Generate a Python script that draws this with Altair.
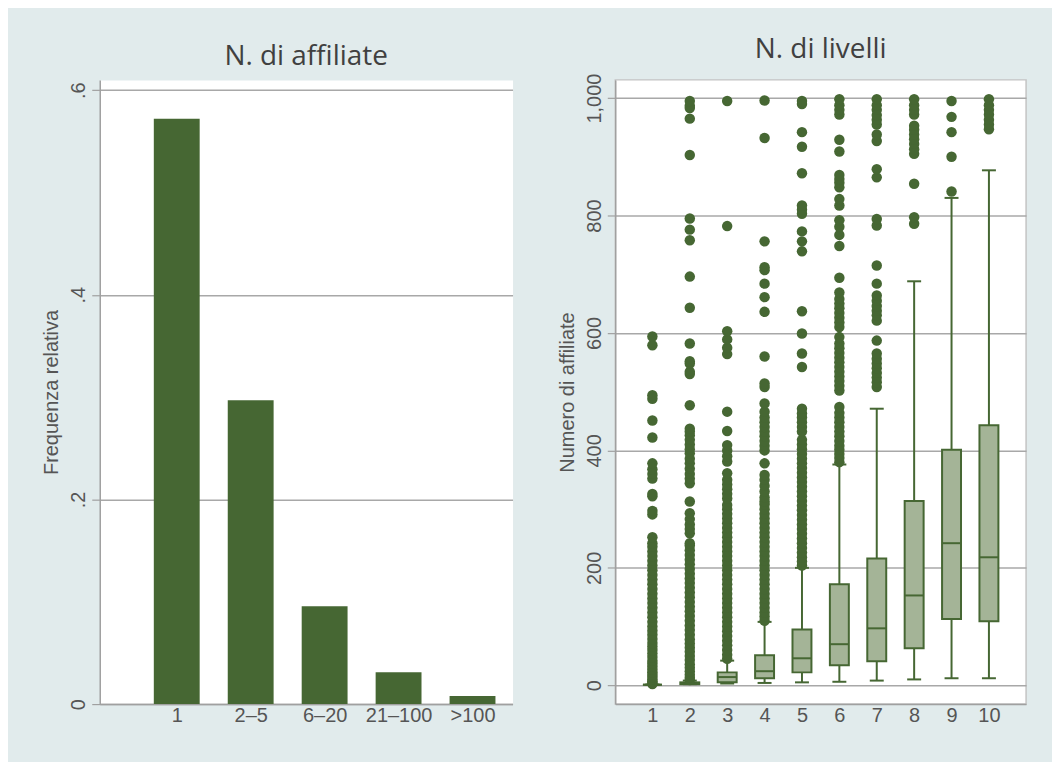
import json
import altair as alt
import pandas as pd

# ---------------- data ----------------
aff_labels = ["1", "2–5", "6–20", "21–100", ">100"]
aff_pos = [1, 2, 3, 4, 5]
aff_freq = [0.572, 0.297, 0.0955, 0.031, 0.0078]

lvl_pos = [1, 2, 3, 4, 5, 6, 7, 8, 9, 10]
box_lw = [1, 2, 3, 4, 5, 6, 8, 10, 12, 12]
box_q1 = [1, 2, 5, 12, 22, 34, 41, 63, 113, 109]
box_med = [1, 3, 14, 24, 46, 70, 97, 153, 242, 218]
box_q3 = [1, 5, 22, 51, 95, 172, 216, 314, 401, 443]
box_uw = [1, 8, 42, 108, 200, 376, 471, 688, 830, 877]

out_1 = [2, 4, 7, 10, 14, 18, 22, 27, 32, 37, 42, 48, 54, 60, 66, 72, 79, 86, 93, 100,
         108, 116, 124, 132, 140, 148, 156, 164, 172, 180, 188, 196, 204, 212, 220, 228,
         236, 242, 252, 291, 297, 322, 326, 352, 360, 368, 378, 422, 451, 488, 494, 579, 594]
out_2 = [9, 13, 18, 24, 30, 36, 43, 50, 57, 64, 71, 78, 86, 94, 102, 110, 118, 126, 134,
         142, 150, 158, 166, 174, 182, 190, 198, 206, 214, 222, 230, 238, 242, 259, 266,
         274, 283, 293, 313, 344, 352, 360, 369, 378, 386, 395, 402, 410, 418, 426, 432,
         437, 477, 530, 534, 548, 552, 582, 643, 696, 758, 776, 795, 903, 965, 983, 987, 995]
out_3 = [45, 52, 60, 68, 76, 84, 92, 100, 108, 116, 124, 132, 140, 148, 156, 164, 172, 180,
         188, 196, 204, 212, 220, 228, 236, 244, 252, 260, 268, 276, 284, 292, 300, 307,
         318, 326, 334, 342, 350, 361, 381, 390, 400, 409, 433, 466, 564, 575, 589, 603,
         782, 995]
out_4 = [110, 117, 124, 132, 140, 148, 156, 164, 172, 180, 188, 196, 204, 212, 220, 228,
         236, 244, 252, 260, 268, 276, 284, 292, 300, 308, 313, 320, 330, 340, 350, 358,
         378, 400, 408, 416, 424, 432, 440, 448, 456, 466, 480, 508, 514, 560, 636, 661,
         684, 707, 712, 756, 932, 996]
out_5 = [204, 211, 218, 226, 234, 242, 250, 258, 266, 274, 282, 290, 298, 306, 314, 322,
         330, 338, 346, 354, 362, 370, 378, 386, 394, 402, 410, 418, 432, 440, 448, 456,
         463, 471, 542, 565, 599, 637, 739, 756, 773, 803, 810, 817, 872, 917, 942, 990, 995]
out_6 = [380, 387, 394, 401, 408, 416, 424, 432, 440, 448, 456, 464, 474, 502, 510, 518,
         526, 534, 542, 550, 558, 566, 574, 582, 593, 610, 618, 626, 634, 642, 650, 658,
         669, 694, 748, 767, 781, 792, 817, 828, 848, 856, 862, 869, 909, 929, 972, 980,
         988, 998]
out_7 = [508, 516, 524, 532, 540, 548, 556, 565, 587, 621, 630, 638, 646, 655, 664, 684,
         715, 783, 794, 865, 879, 927, 938, 955, 963, 971, 980, 988, 998]
out_8 = [786, 797, 854, 905, 913, 922, 930, 938, 946, 953, 972, 980, 988, 998]
out_9 = [841, 900, 942, 968, 995]
out_10 = [947, 955, 963, 972, 980, 988, 998]

# ---------------- tables ----------------
bars = pd.DataFrame({"pos": aff_pos, "freq": aff_freq, "label": aff_labels})
boxes = pd.DataFrame({"pos": lvl_pos, "lw": box_lw, "q1": box_q1, "med": box_med,
                      "q3": box_q3, "uw": box_uw})
outs_all = [out_1, out_2, out_3, out_4, out_5, out_6, out_7, out_8, out_9, out_10]
outliers = pd.DataFrame([{"pos": p, "v": v} for p, lst in zip(lvl_pos, outs_all) for v in lst])

GREEN = "#466733"
BOXFILL = "#a4b497"
TITLE_FONT = "Open Sans"
AX_FONT = "Liberation Sans"

# ---------------- left panel ----------------
aff_expr = json.dumps(aff_labels, ensure_ascii=False) + "[datum.value - 1]"
left = alt.Chart(bars).mark_bar(size=46, color=GREEN).encode(
    x=alt.X("pos:Q",
            scale=alt.Scale(domain=[0.026, 5.474], nice=False, zero=False),
            axis=alt.Axis(values=aff_pos, labelExpr=aff_expr, title=None, grid=False,
                          ticks=False, labelPadding=1)),
    y=alt.Y("freq:Q",
            scale=alt.Scale(domain=[0, 0.61], nice=False),
            axis=alt.Axis(values=[0, 0.2, 0.4, 0.6], title="Frequenza relativa",
                          labelExpr="datum.value == 0 ? '0' : replace(format(datum.value, '.1f'), '0.', '.')",
                          labelAngle=270, grid=True)),
).properties(
    width=414, height=626,
    title=alt.TitleParams("N. di affiliate"),
    view=alt.ViewBackground(fill="white", stroke="transparent"),
)

# ---------------- right panel ----------------
xr = alt.X("pos:Q",
           scale=alt.Scale(domain=[0.14, 10.86], nice=False, zero=False),
           axis=alt.Axis(values=lvl_pos, format="d", title=None, grid=False,
                         ticks=False, labelPadding=1))
yscale = alt.Scale(domain=[-32, 1031], nice=False, zero=False)
yaxis = alt.Axis(values=[0, 200, 400, 600, 800, 1000], format=",d", title="Numero di affiliate",
                 labelAngle=270, grid=True)

base = alt.Chart(boxes)
whisk = base.mark_rule(color=GREEN, strokeWidth=2).encode(
    x=xr, y=alt.Y("lw:Q", scale=yscale, axis=yaxis), y2="uw:Q")
box = base.mark_bar(size=19, fill=BOXFILL, stroke=GREEN, strokeWidth=2).encode(
    x=xr, y=alt.Y("q1:Q", scale=yscale, axis=yaxis), y2="q3:Q")
med = base.mark_tick(orient="horizontal", size=19, thickness=2, color=GREEN, opacity=1).encode(
    x=xr, y=alt.Y("med:Q", scale=yscale, axis=yaxis))
cap_lo = base.mark_tick(orient="horizontal", size=14, thickness=2, color=GREEN, opacity=1).encode(
    x=xr, y=alt.Y("lw:Q", scale=yscale, axis=yaxis))
cap_hi = base.mark_tick(orient="horizontal", size=14, thickness=2, color=GREEN, opacity=1).encode(
    x=xr, y=alt.Y("uw:Q", scale=yscale, axis=yaxis))
pts = alt.Chart(outliers).mark_circle(size=110, color=GREEN, opacity=1).encode(
    x=xr, y=alt.Y("v:Q", scale=yscale, axis=yaxis))

right = alt.layer(whisk, box, med, cap_lo, cap_hi, pts).properties(
    width=412, height=626,
    title=alt.TitleParams("N. di livelli"),
    view=alt.ViewBackground(fill="white", stroke="#c4c4c4", strokeWidth=1.5),
)

chart = alt.hconcat(left, right, spacing=43).properties(
    background="#e1ebec",
    padding={"left": 33, "top": 26, "right": 25, "bottom": 35},
).configure_axis(
    labelFont=AX_FONT, labelFontSize=20, labelColor="#555555",
    titleFont=AX_FONT, titleFontSize=20, titleFontWeight="normal", titleColor="#555555",
    domainColor="#a0a0a0", domainWidth=1.5,
    tickColor="#a0a0a0", tickWidth=1.2, tickSize=8,
    gridColor="#a8a8a8", gridWidth=1.5,
).configure_axisY(
    titlePadding=7, labelPadding=3,
).configure_title(
    font=TITLE_FONT, fontSize=28, fontWeight="normal", color="#404040", offset=9,
    anchor="middle",
).configure_view(
    fill="white", stroke="transparent",
)

chart.save("out.html", embed_options={"renderer": "svg", "actions": False})
